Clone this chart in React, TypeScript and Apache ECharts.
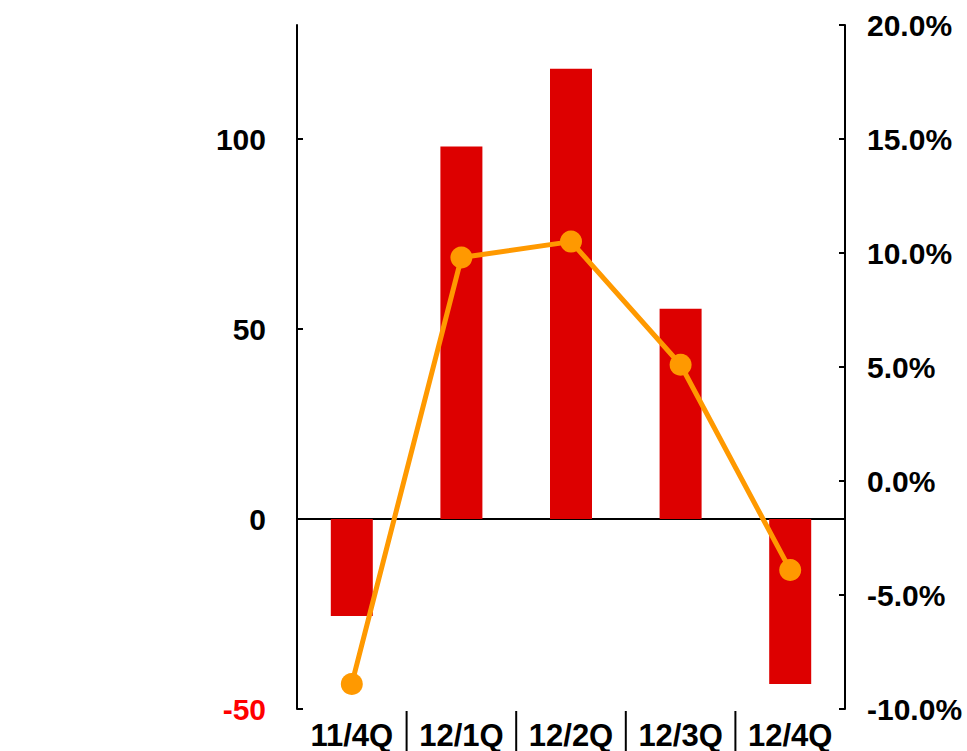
import React, { useEffect, useRef } from "react";
import * as echarts from "echarts";

const categories = ["11/4Q", "12/1Q", "12/2Q", "12/3Q", "12/4Q"];
const barValues = [-25.5, 98, 118.5, 55.3, -43.4];
const rateValues = [-8.9, 9.8, 10.5, 5.1, -3.9];
const leftTicks = [-50, 0, 50, 100];
const rightTicks = [-10, -5, 0, 5, 10, 15, 20];
const separatorIndexes = [1, 2, 3, 4];

const FONT = "'Liberation Sans', Arial, sans-serif";

export default function App() {
  const ref = useRef<HTMLDivElement>(null);
  useEffect(() => {
    if (!ref.current) return;
    const chart = echarts.init(ref.current, undefined, { renderer: "svg" });
    const labelStyle = { fontFamily: FONT, fontWeight: "bold" as const, fontSize: 30, color: "#000" };
    chart.setOption({
      animation: false,
      backgroundColor: "#fff",
      grid: { left: 297, right: 122, top: 25, bottom: 42, containLabel: false, outerBoundsMode: "none" },
      xAxis: [
        {
          type: "category",
          data: categories,
          position: "top",
          axisLine: { show: true, onZero: true, onZeroAxisIndex: 0, lineStyle: { color: "#000", width: 2 } },
          axisTick: { show: false },
          axisLabel: { show: false },
          splitLine: { show: false },
        },
        {
          type: "category",
          data: categories,
          position: "bottom",
          axisLine: { show: false, onZero: false },
          axisTick: { show: false },
          axisLabel: { ...labelStyle, fontSize: 31, margin: 11, interval: 0, hideOverlap: false },
          splitLine: { show: false },
        },
      ],
      yAxis: [
        {
          type: "value",
          min: -50,
          max: 130,
          interval: 50,
          position: "left",
          axisLine: { show: true, lineStyle: { color: "#000", width: 2 } },
          axisTick: { show: true, inside: true, length: 6, lineStyle: { color: "#000", width: 2 }, customValues: leftTicks },
          axisLabel: {
            ...labelStyle,
            margin: 31,
            customValues: leftTicks,
            color: (v: any) => (Number(v) < 0 ? "#ff0000" : "#000"),
          },
          splitLine: { show: false },
        },
        {
          type: "value",
          min: -10,
          max: 20,
          interval: 5,
          position: "right",
          axisLine: { show: true, lineStyle: { color: "#000", width: 2 } },
          axisTick: { show: true, inside: true, length: 6, lineStyle: { color: "#000", width: 2 }, customValues: rightTicks },
          axisLabel: {
            ...labelStyle,
            margin: 22,
            customValues: rightTicks,
            formatter: (v: number) => v.toFixed(1) + "%",
          },
          splitLine: { show: false },
        },
      ],
      series: [
        {
          type: "bar",
          xAxisIndex: 1,
          yAxisIndex: 0,
          data: barValues,
          barWidth: 42,
          itemStyle: { color: "#dd0000" },
        },
        {
          type: "line",
          xAxisIndex: 1,
          yAxisIndex: 1,
          data: rateValues,
          symbol: "circle",
          symbolSize: 22,
          lineStyle: { color: "#ff9900", width: 5 },
          itemStyle: { color: "#ff9900" },
          z: 5,
        },
        {
          type: "custom",
          xAxisIndex: 1,
          yAxisIndex: 0,
          clip: false,
          silent: true,
          data: separatorIndexes.map((i) => [i, 0]),
          renderItem: (params: any, api: any) => {
            const cs = params.coordSys;
            const x = api.coord([api.value(0), 0])[0] - api.size([1, 0])[0] / 2;
            const yb = cs.y + cs.height;
            return {
              type: "line",
              shape: { x1: x, y1: yb + 2, x2: x, y2: yb + 44 },
              style: { stroke: "#000", lineWidth: 2 },
            };
          },
        },
      ],
    });
    return () => chart.dispose();
  }, []);
  return <div ref={ref} style={{ position: "fixed", left: 0, top: 0, width: 967, height: 751 }} />;
}
